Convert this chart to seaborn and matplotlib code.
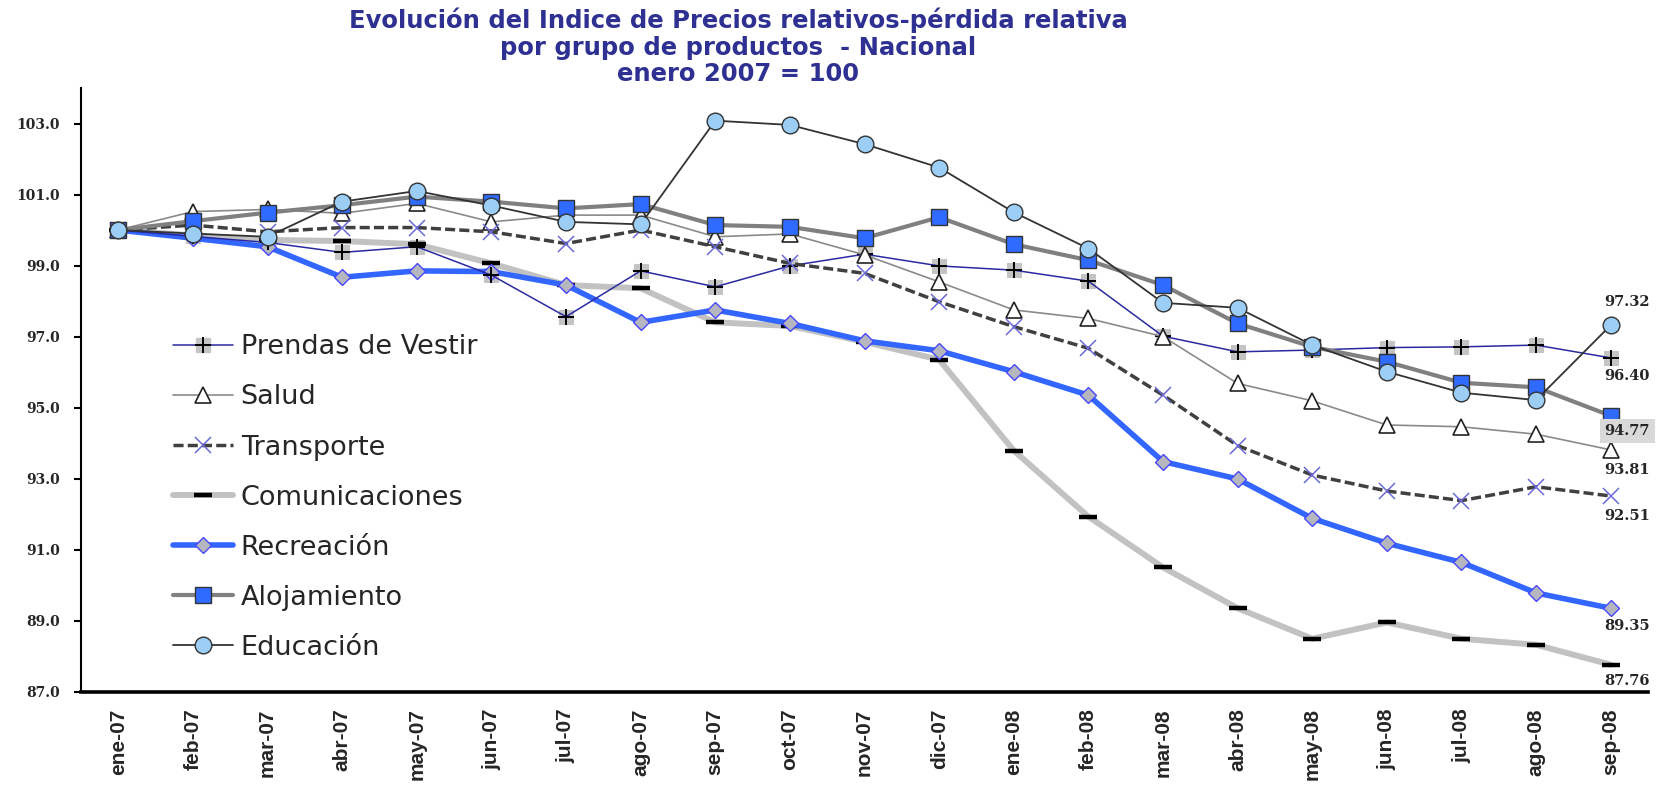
import numpy as np
import pandas as pd
import matplotlib
matplotlib.use("Agg")
import matplotlib.pyplot as plt
from matplotlib.lines import Line2D
import seaborn as sns

meses = ["ene-07", "feb-07", "mar-07", "abr-07", "may-07", "jun-07", "jul-07",
         "ago-07", "sep-07", "oct-07", "nov-07", "dic-07", "ene-08", "feb-08",
         "mar-08", "abr-08", "may-08", "jun-08", "jul-08", "ago-08", "sep-08"]

prendas = [100.0, 99.82, 99.65, 99.37, 99.53, 98.73, 97.56, 98.85, 98.40, 98.99, 99.32,
           98.99, 98.87, 98.56, 97.01, 96.57, 96.62, 96.69, 96.71, 96.76, 96.40]
salud = [100.0, 100.52, 100.58, 100.47, 100.75, 100.23, 100.42, 100.42, 99.81, 99.89, 99.30,
         98.54, 97.75, 97.51, 97.00, 95.68, 95.19, 94.51, 94.46, 94.25, 93.81]
transporte = [100.0, 100.14, 99.95, 100.07, 100.07, 99.95, 99.62, 100.0, 99.53, 99.06, 98.78,
              97.98, 97.28, 96.67, 95.35, 93.93, 93.10, 92.65, 92.38, 92.77, 92.51]
comunicaciones = [100.0, 99.85, 99.72, 99.69, 99.60, 99.06, 98.45, 98.36, 97.40, 97.30, 96.85,
                  96.35, 93.79, 91.93, 90.50, 89.35, 88.49, 88.95, 88.49, 88.32, 87.76]
recreacion = [100.0, 99.77, 99.53, 98.67, 98.85, 98.83, 98.45, 97.40, 97.75, 97.37, 96.88,
              96.60, 96.01, 95.35, 93.48, 92.99, 91.88, 91.18, 90.64, 89.78, 89.35]
alojamiento = [100.0, 100.25, 100.49, 100.70, 100.94, 100.80, 100.61, 100.73, 100.14, 100.09, 99.77,
               100.36, 99.60, 99.15, 98.45, 97.37, 96.71, 96.29, 95.70, 95.57, 94.77]
educacion = [100.0, 99.90, 99.81, 100.80, 101.10, 100.69, 100.23, 100.16, 103.08, 102.96, 102.42,
             101.76, 100.50, 99.48, 97.95, 97.81, 96.76, 96.01, 95.42, 95.21, 97.32]

yticks = [87.0, 89.0, 91.0, 93.0, 95.0, 97.0, 99.0, 101.0, 103.0]

df = pd.DataFrame({
    "pos": np.arange(len(meses)),
    "Prendas de Vestir": prendas,
    "Salud": salud,
    "Transporte": transporte,
    "Comunicaciones": comunicaciones,
    "Recreación": recreacion,
    "Alojamiento": alojamiento,
    "Educación": educacion,
})

sns.set_style("white")
plt.rcParams["font.family"] = ["DejaVu Sans"]

fig = plt.figure(figsize=(16.59, 7.85), dpi=100)
ax = fig.add_axes([0.0488, 0.1189, 0.9446, 0.7690])

# estilos de cada serie
estilos = {
    "Comunicaciones": dict(color="#c2c2c2", lw=4.3, marker="_", ms=13, mec="black", mfc="black", mew=3.2),
    "Recreación": dict(color="#3366ff", lw=4.0, marker="D", ms=8, mfc="#b6b6bf", mec="#4646ff", mew=1),
    "Prendas de Vestir": dict(color="#2a2aa0", lw=1.1, marker="+", ms=12, mec="black", mew=1.4),
    "Salud": dict(color="#8a8a8a", lw=1.2, marker="^", ms=11, mfc="white", mec="#222222", mew=1.2),
    "Transporte": dict(color="#404040", lw=2.5, ls=(0, (2.9, 1.2)), marker="x", ms=11,
                       mec="#6a6ad8", mew=1.1),
    "Alojamiento": dict(color="#808080", lw=3.0, marker="s", ms=11, mfc="#2f6bff", mec="#333333", mew=1),
    "Educación": dict(color="#333333", lw=1.3, marker="o", ms=12, mfc="#9ccdf4", mec="#333333", mew=1),
}

# cuadrado gris detrás de las cruces de Prendas
sns.lineplot(data=df, x="pos", y="Prendas de Vestir", ax=ax, lw=0, marker="s", ms=10,
             mfc="#c4c4c4", mec="#c4c4c4", zorder=2)

for serie in ["Comunicaciones", "Recreación", "Prendas de Vestir", "Salud",
              "Transporte", "Alojamiento", "Educación"]:
    st = dict(estilos[serie])
    sns.lineplot(data=df, x="pos", y=serie, ax=ax, zorder=3, **st)

# etiquetas finales
finales = {
    "Educación": (11.5, 16.5),
    "Prendas de Vestir": (12, -13),
    "Alojamiento": (12, -11),
    "Salud": (12, -14.5),
    "Transporte": (12, -14.5),
    "Recreación": (12, -13),
    "Comunicaciones": (12, -12),
}
for serie, (dx, dy) in finales.items():
    v = df[serie].iloc[-1]
    kw = {}
    if serie == "Alojamiento":
        kw["bbox"] = dict(boxstyle="square,pad=0.35", fc="#d9d9d9", ec="none")
    ax.annotate(f"{v:.2f}", xy=(df["pos"].iloc[-1], v), xytext=(dx, dy),
                textcoords="offset points", ha="center", va="center",
                fontsize=10.5, fontweight="bold", family="DejaVu Serif", zorder=5, **kw)

ax.set_xlim(-0.5, len(meses) - 0.5)
ax.set_ylim(87, 104)
ax.set_yticks(yticks)
ax.set_yticklabels([f"{t:.1f}" for t in yticks], fontsize=10, fontweight="bold",
                   family="DejaVu Serif")
ax.set_xticks(df["pos"])
ax.set_xticklabels(meses, rotation=90, fontsize=15, fontweight="bold",
                   family="Liberation Sans")
ax.set_xticks(np.arange(-0.5, len(meses), 1), minor=True)
ax.tick_params(axis="x", which="major", length=0, pad=12)
ax.tick_params(axis="x", which="minor", length=5, width=2.5, direction="out", color="black")
ax.tick_params(axis="y", length=5, width=1.5, direction="out", pad=10, color="black", left=True)
ax.set_xlabel("")
ax.set_ylabel("")

sns.despine(ax=ax, top=True, right=True)
ax.spines["left"].set_linewidth(1.5)
ax.spines["left"].set_color("black")
ax.spines["bottom"].set_linewidth(2.6)
ax.spines["bottom"].set_color("black")
ax.grid(False)

# leyenda
handles = [
    (Line2D([], [], lw=0, marker="s", ms=10, mfc="#c4c4c4", mec="#c4c4c4"),
     Line2D([], [], **estilos["Prendas de Vestir"])),
]
for serie in ["Salud", "Transporte", "Comunicaciones", "Recreación", "Alojamiento", "Educación"]:
    handles.append(Line2D([], [], **estilos[serie]))
etiquetas = ["Prendas de Vestir", "Salud", "Transporte", "Comunicaciones",
             "Recreación", "Alojamiento", "Educación"]
ax.legend(handles, etiquetas, loc="upper left", bbox_to_anchor=(0.0587, 0.592),
          frameon=False, fontsize=19.5, handlelength=2.2, handletextpad=0.3,
          labelspacing=0.89, borderpad=0, borderaxespad=0)

fig.text(0.445, 0.99,
         "Evolución del Indice de Precios relativos-pérdida relativa\n"
         "por grupo de productos  - Nacional\nenero 2007 = 100",
         ha="center", va="top", fontsize=17.5, fontweight="bold", color="#2e3192",
         linespacing=1.12)

fig.savefig("out.png", dpi=100)
plt.close(fig)
